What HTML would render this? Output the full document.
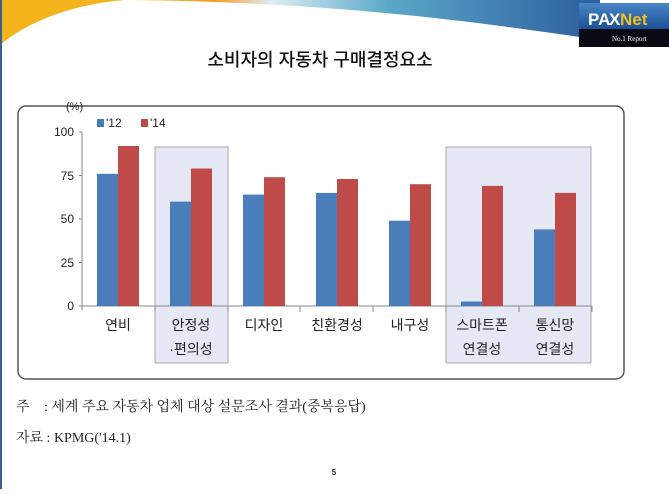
<!DOCTYPE html>
<html><head><meta charset="utf-8"><style>
body{margin:0;width:669px;height:489px;overflow:hidden;background:#fff}
text{font-family:"Liberation Sans","Noto Sans CJK KR",sans-serif}
.sf{font-family:"Liberation Serif","Noto Serif CJK SC",serif}
</style></head><body>
<svg width="669" height="489" viewBox="0 0 669 489" xmlns="http://www.w3.org/2000/svg">
<defs>
<linearGradient id="sw" x1="0" y1="0" x2="1" y2="0">
<stop offset="0" stop-color="#f7c21a"/><stop offset="0.18" stop-color="#f39a1e"/><stop offset="0.3" stop-color="#dceef3"/><stop offset="0.55" stop-color="#5aa8c8"/><stop offset="1" stop-color="#2c5d9e"/></linearGradient>
<linearGradient id="lg" x1="0" y1="0" x2="0" y2="1"><stop offset="0" stop-color="#4a86c6"/><stop offset="1" stop-color="#1d4f96"/></linearGradient>
</defs>
<path d="M130 0 H600 V40 C480 22 330 2 130 0 Z" fill="url(#sw)"/>
<path d="M0 0 H125 C75 4 30 20 0 45Z" fill="#f5b41c"/>
<rect x="0" y="0" width="2" height="489" fill="#3a5f8e"/>
<rect x="579" y="3" width="90" height="26" fill="url(#lg)"/>
<rect x="579" y="29" width="90" height="18" fill="#0a0a14"/>
<text x="588" y="25" font-size="17" font-weight="bold" fill="#fff">PA</text>
<text x="620" y="25" font-size="17" font-weight="bold" fill="#f0c020">Net</text>
<text x="609" y="25" font-size="17" font-weight="bold" fill="#fff">X</text>
<text x="612" y="41" font-size="7" fill="#fff" class="sf">No.1 Report</text>
<text x="320" y="66" font-size="18" font-weight="500" text-anchor="middle" fill="#111">소비자의 자동차 구매결정요소</text>
<rect x="18" y="106" width="606" height="273" rx="8" fill="#fff" stroke="#555" stroke-width="1.5"/>
<rect x="155" y="147" width="73" height="216" fill="#e6e8f6" stroke="#aaa"/>
<rect x="446" y="147" width="145" height="216" fill="#e6e8f6" stroke="#aaa"/>
<g font-size="12" fill="#222" text-anchor="end">
<text x="74" y="136">100</text><text x="74" y="180">75</text><text x="74" y="223">50</text><text x="74" y="267">25</text><text x="74" y="310">0</text></g>
<text x="66" y="110" font-size="11" fill="#222">(%)</text>
<rect x="97" y="119" width="7" height="8" fill="#4a7ebb"/><text x="106" y="127" font-size="12" fill="#222">'12</text>
<rect x="141" y="119" width="7" height="8" fill="#be4b48"/><text x="150" y="127" font-size="12" fill="#222">'14</text>
<g stroke="#888" stroke-width="1"><line x1="82" y1="132" x2="82" y2="310"/><line x1="79" y1="132" x2="82" y2="132"/><line x1="79" y1="175.5" x2="82" y2="175.5"/><line x1="79" y1="219" x2="82" y2="219"/><line x1="79" y1="262.5" x2="82" y2="262.5"/>
<line x1="79" y1="306" x2="592" y2="306"/>
<line x1="155" y1="306" x2="155" y2="312"/><line x1="228" y1="306" x2="228" y2="312"/><line x1="300" y1="306" x2="300" y2="312"/><line x1="373" y1="306" x2="373" y2="312"/><line x1="446" y1="306" x2="446" y2="312"/><line x1="519" y1="306" x2="519" y2="312"/><line x1="592" y1="306" x2="592" y2="312"/></g>
<g fill="#4a7ebb">
<rect x="97" y="173.8" width="21" height="132.2"/>
<rect x="170" y="201.6" width="21" height="104.4"/>
<rect x="243" y="194.6" width="21" height="111.4"/>
<rect x="316" y="192.9" width="21" height="113.1"/>
<rect x="389" y="220.7" width="21" height="85.3"/>
<rect x="461" y="301.5" width="21" height="4.5"/>
<rect x="534" y="229.4" width="21" height="76.6"/></g>
<g fill="#be4b48">
<rect x="118" y="146" width="21" height="160"/>
<rect x="191" y="168.5" width="21" height="137.5"/>
<rect x="264" y="177.2" width="21" height="128.8"/>
<rect x="337" y="179" width="21" height="127"/>
<rect x="410" y="184.2" width="21" height="121.8"/>
<rect x="482" y="185.9" width="21" height="120.1"/>
<rect x="555" y="192.9" width="21" height="113.1"/></g>
<g font-size="14" fill="#222" text-anchor="middle">
<text x="118" y="330">연비</text>
<text x="191" y="330">안정성</text><text x="191" y="354">·편의성</text>
<text x="264" y="330">디자인</text>
<text x="337" y="330">친환경성</text>
<text x="410" y="330">내구성</text>
<text x="482" y="330">스마트폰</text><text x="482" y="354">연결성</text>
<text x="555" y="330">통신망</text><text x="555" y="354">연결성</text></g>
<g font-size="14" fill="#222">
<text x="16" y="411" class="sf">주</text>
<text x="44" y="411" class="sf">: 세계 주요 자동차 업체 대상 설문조사 결과(중복응답)</text>
<text x="16" y="442" class="sf">자료 : KPMG('14.1)</text></g>
<text x="334" y="475" font-size="8" font-weight="bold" fill="#222" text-anchor="middle">5</text>
</svg>
</body></html>
